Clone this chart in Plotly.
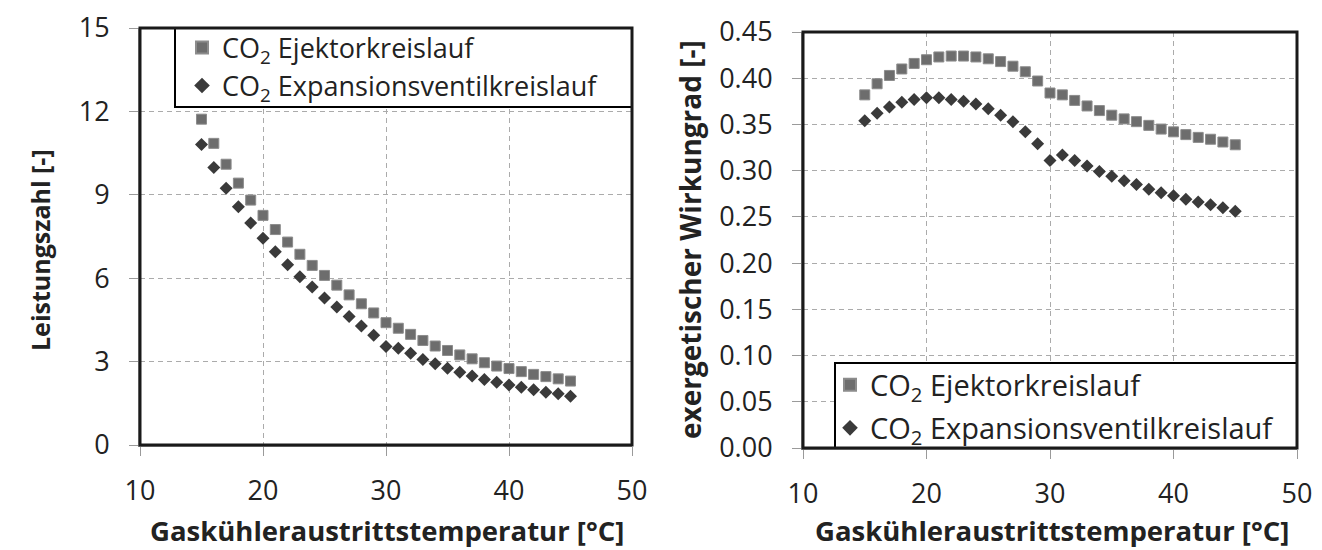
import plotly.graph_objects as go

temperature = [15, 16, 17, 18, 19, 20, 21, 22, 23, 24, 25, 26, 27, 28, 29, 30,
               31, 32, 33, 34, 35, 36, 37, 38, 39, 40, 41, 42, 43, 44, 45]

cop_ejektor = [11.72, 10.85, 10.10, 9.42, 8.81, 8.26, 7.75, 7.30, 6.86, 6.46, 6.10,
               5.75, 5.40, 5.08, 4.75, 4.40, 4.20, 3.98, 3.76, 3.56, 3.40, 3.24,
               3.10, 2.96, 2.84, 2.75, 2.64, 2.54, 2.46, 2.38, 2.30]
cop_ventil = [10.81, 9.98, 9.24, 8.57, 7.99, 7.44, 6.95, 6.48, 6.05, 5.68, 5.29,
              4.96, 4.62, 4.28, 3.95, 3.54, 3.48, 3.30, 3.08, 2.92, 2.76, 2.62,
              2.48, 2.36, 2.26, 2.16, 2.08, 1.99, 1.90, 1.84, 1.75]

eta_ejektor = [0.382, 0.394, 0.403, 0.410, 0.416, 0.420, 0.423, 0.424, 0.424, 0.423,
               0.421, 0.418, 0.413, 0.407, 0.397, 0.384, 0.382, 0.376, 0.370, 0.365,
               0.360, 0.356, 0.353, 0.349, 0.345, 0.342, 0.339, 0.336, 0.334, 0.331,
               0.328]
eta_ventil = [0.354, 0.362, 0.369, 0.374, 0.377, 0.379, 0.379, 0.377, 0.375, 0.372,
              0.367, 0.360, 0.353, 0.342, 0.329, 0.311, 0.317, 0.311, 0.305, 0.299,
              0.294, 0.289, 0.285, 0.280, 0.276, 0.273, 0.269, 0.266, 0.263, 0.260,
              0.256]

name_ejektor = "CO<sub>2</sub> Ejektorkreislauf"
name_ventil = "CO<sub>2</sub> Expansionsventilkreislauf"
x_ticks = [10, 20, 30, 40, 50]
y1_ticks = [0, 3, 6, 9, 12, 15]
y2_ticks = [0.00, 0.05, 0.10, 0.15, 0.20, 0.25, 0.30, 0.35, 0.40, 0.45]

W, H = 1322, 550
FONT = "Open Sans"
TXT = "#222222"
SQ_COLOR = "#6d6d6d"
DI_COLOR = "#3a3a3a"


def px_x(p):
    return p / W


def px_y(p):
    return 1 - p / H


sq_marker = dict(symbol="square", size=10, color=SQ_COLOR, line=dict(width=1, color="#8c8c8c"))
di_marker = dict(symbol="diamond", size=10, color=DI_COLOR, line=dict(width=0))

fig = go.Figure()
fig.add_trace(go.Scatter(x=temperature, y=cop_ejektor, mode="markers", name=name_ejektor,
                         marker=sq_marker, xaxis="x", yaxis="y", legend="legend"))
fig.add_trace(go.Scatter(x=temperature, y=cop_ventil, mode="markers", name=name_ventil,
                         marker=di_marker, xaxis="x", yaxis="y", legend="legend2"))
fig.add_trace(go.Scatter(x=temperature, y=eta_ejektor, mode="markers", name=name_ejektor,
                         marker=sq_marker, xaxis="x2", yaxis="y2", legend="legend3"))
fig.add_trace(go.Scatter(x=temperature, y=eta_ventil, mode="markers", name=name_ventil,
                         marker=di_marker, xaxis="x2", yaxis="y2", legend="legend4"))

grid = dict(showgrid=True, gridcolor="#ababab", gridwidth=1, griddash="5px,4px",
            zeroline=False, showline=True, linecolor="#9a9a9a", linewidth=2,
            ticks="outside", ticklen=9, tickcolor="#9a9a9a", tickwidth=1,
            automargin=False,
            tickfont=dict(family=FONT, size=27, color=TXT))


def leg(xp, yp, size):
    return dict(x=px_x(xp), y=px_y(yp), xanchor="left", yanchor="middle",
                bgcolor="rgba(0,0,0,0)", borderwidth=0,
                font=dict(family=FONT, size=size, color=TXT), itemsizing="constant")


fig.update_layout(
    width=W, height=H, margin=dict(l=0, r=0, t=0, b=0, pad=0, autoexpand=False),
    paper_bgcolor="white", plot_bgcolor="white",
    font=dict(family=FONT, color=TXT),
    xaxis=dict(domain=[px_x(140), px_x(632)], range=[10, 50], tickvals=x_ticks,
               anchor="y", ticklabelstandoff=12, **grid),
    yaxis=dict(domain=[px_y(445), px_y(28)], range=[0, 15], tickvals=y1_ticks,
               anchor="x", ticklabelstandoff=14, **grid),
    xaxis2=dict(domain=[px_x(803), px_x(1297)], range=[10, 50], tickvals=x_ticks,
                anchor="y2", ticklabelstandoff=12, **grid),
    yaxis2=dict(domain=[px_y(448), px_y(32)], range=[0, 0.45], tickvals=y2_ticks,
                tickformat=".2f", anchor="x2", ticklabelstandoff=14, **grid),
    legend=leg(182, 48, 27),
    legend2=leg(182, 86, 27),
    legend3=leg(830, 385, 29),
    legend4=leg(830, 428, 29),
    showlegend=True,
)

shapes = [
    # legend boxes
    dict(type="rect", xref="paper", yref="paper", x0=px_x(175), x1=px_x(632),
         y0=px_y(107), y1=px_y(28), fillcolor="white", line=dict(color="black", width=2),
         layer="above"),
    dict(type="rect", xref="paper", yref="paper", x0=px_x(835), x1=px_x(1297),
         y0=px_y(448), y1=px_y(363), fillcolor="white", line=dict(color="black", width=2),
         layer="above"),
    # plot frames
    dict(type="rect", xref="x domain", yref="y domain", x0=0, x1=1, y0=0, y1=1,
         line=dict(color="#1a1a1a", width=3), layer="above"),
    dict(type="rect", xref="x2 domain", yref="y2 domain", x0=0, x1=1, y0=0, y1=1,
         line=dict(color="#1a1a1a", width=3), layer="above"),
]
fig.update_layout(shapes=shapes)


def tfont(size):
    return dict(family=FONT, size=size, color=TXT, weight="bold")


annotations = [
    dict(text="Leistungszahl [-]", x=px_x(40), y=px_y(250), xref="paper", yref="paper",
         textangle=-90, showarrow=False, font=tfont(25), xanchor="center", yanchor="middle"),
    dict(text="Gaskühleraustrittstemperatur [°C]", x=px_x(387), y=px_y(530),
         xref="paper", yref="paper", showarrow=False, font=tfont(27.5),
         xanchor="center", yanchor="middle"),
    dict(text="exergetischer Wirkungrad [-]", x=px_x(690), y=px_y(240), xref="paper",
         yref="paper", textangle=-90, showarrow=False, font=tfont(28),
         xanchor="center", yanchor="middle"),
    dict(text="Gaskühleraustrittstemperatur [°C]", x=px_x(1052), y=px_y(530),
         xref="paper", yref="paper", showarrow=False, font=tfont(27.5),
         xanchor="center", yanchor="middle"),
]
fig.update_layout(annotations=annotations)

fig.write_html("out.html")
